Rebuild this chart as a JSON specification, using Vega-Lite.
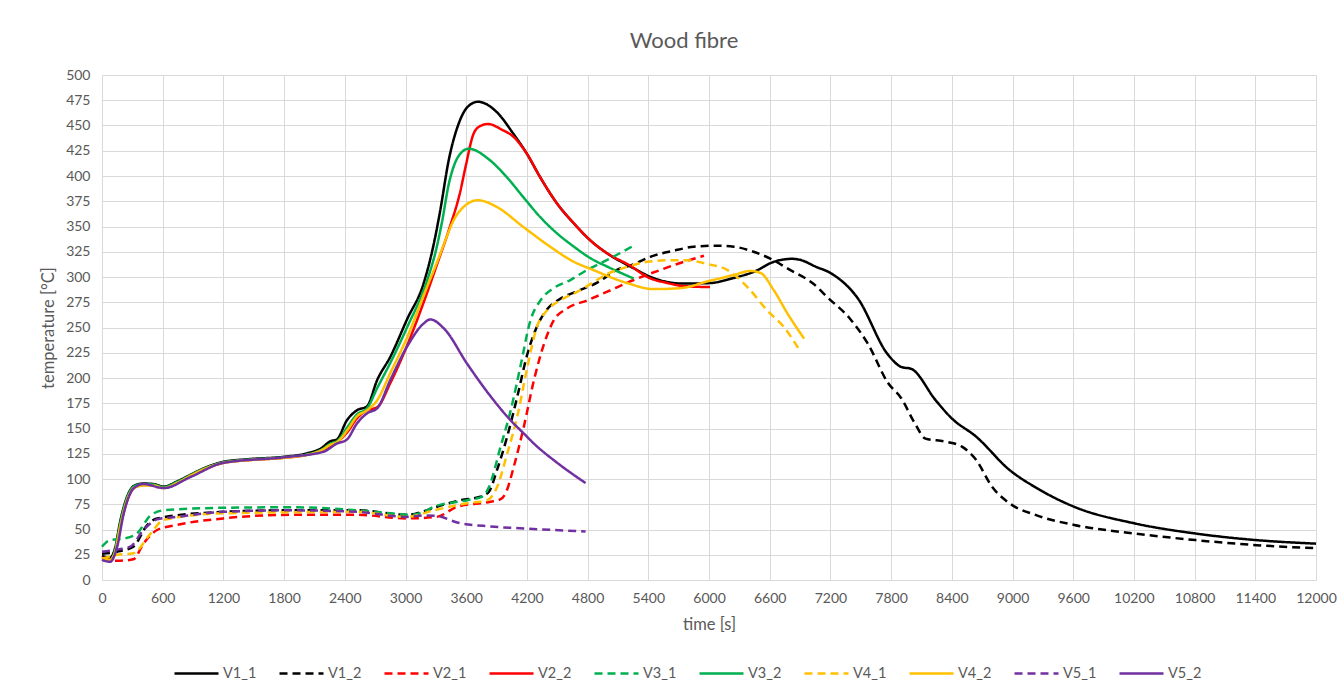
{
  "$schema": "https://vega.github.io/schema/vega-lite/v6.json",
  "width": 1214,
  "height": 505,
  "autosize": "none",
  "padding": {"left": 102, "top": 75, "right": 28, "bottom": 119},
  "background": "white",
  "title": {"text": "Wood fibre", "fontSize": 22, "font": "Lato", "fontWeight": "normal", "color": "#595959", "offset": 15, "dx": -25},
  "config": {
    "view": {"stroke": null},
    "font": "Lato",
    "axis": {"labelFont": "Lato", "titleFont": "Lato", "labelFontSize": 14, "titleFontSize": 16.5, "labelColor": "#595959", "titleColor": "#595959", "titleFontWeight": "normal", "gridColor": "#D9D9D9", "gridWidth": 1, "domain": false, "ticks": false},
    "legend": {"labelFont": "Lato", "labelFontSize": 14.5, "labelColor": "#595959", "padding": 0}
  },
  "data": {"values": [
    {"s":"V1_1","t":0,"v":24},{"s":"V1_1","t":80,"v":22},{"s":"V1_1","t":130,"v":32},{"s":"V1_1","t":180,"v":58},{"s":"V1_1","t":250,"v":83},{"s":"V1_1","t":330,"v":94},{"s":"V1_1","t":410,"v":95.5},{"s":"V1_1","t":510,"v":95},{"s":"V1_1","t":610,"v":92.5},{"s":"V1_1","t":740,"v":97.5},{"s":"V1_1","t":870,"v":104},{"s":"V1_1","t":1040,"v":112},{"s":"V1_1","t":1200,"v":117},{"s":"V1_1","t":1430,"v":119.5},{"s":"V1_1","t":1800,"v":122},{"s":"V1_1","t":2030,"v":125.5},{"s":"V1_1","t":2160,"v":130},{"s":"V1_1","t":2260,"v":137.5},{"s":"V1_1","t":2320,"v":139},{"s":"V1_1","t":2420,"v":158},{"s":"V1_1","t":2520,"v":168},{"s":"V1_1","t":2620,"v":172},{"s":"V1_1","t":2720,"v":198},{"s":"V1_1","t":2850,"v":221},{"s":"V1_1","t":3015,"v":258},{"s":"V1_1","t":3180,"v":294},{"s":"V1_1","t":3280,"v":333},{"s":"V1_1","t":3340,"v":364},{"s":"V1_1","t":3430,"v":417},{"s":"V1_1","t":3530,"v":453},{"s":"V1_1","t":3610,"v":468},{"s":"V1_1","t":3716,"v":473.5},{"s":"V1_1","t":3900,"v":463.5},{"s":"V1_1","t":4065,"v":442},{"s":"V1_1","t":4200,"v":422},{"s":"V1_1","t":4330,"v":399},{"s":"V1_1","t":4500,"v":372.5},{"s":"V1_1","t":4665,"v":353},{"s":"V1_1","t":4830,"v":336},{"s":"V1_1","t":5000,"v":323},{"s":"V1_1","t":5230,"v":310},{"s":"V1_1","t":5450,"v":299},{"s":"V1_1","t":5750,"v":293.5},{"s":"V1_1","t":6010,"v":294},{"s":"V1_1","t":6240,"v":299},{"s":"V1_1","t":6440,"v":305},{"s":"V1_1","t":6640,"v":315},{"s":"V1_1","t":6820,"v":318},{"s":"V1_1","t":6900,"v":317},{"s":"V1_1","t":7060,"v":310},{"s":"V1_1","t":7200,"v":304},{"s":"V1_1","t":7470,"v":279},{"s":"V1_1","t":7770,"v":223},{"s":"V1_1","t":7900,"v":211},{"s":"V1_1","t":8000,"v":209},{"s":"V1_1","t":8240,"v":178},{"s":"V1_1","t":8400,"v":160},{"s":"V1_1","t":8640,"v":142},{"s":"V1_1","t":8970,"v":109},{"s":"V1_1","t":9240,"v":91},{"s":"V1_1","t":9610,"v":72.5},{"s":"V1_1","t":10210,"v":56},{"s":"V1_1","t":10810,"v":46},{"s":"V1_1","t":11410,"v":39.5},{"s":"V1_1","t":12000,"v":36},
    {"s":"V1_2","t":0,"v":26},{"s":"V1_2","t":150,"v":28},{"s":"V1_2","t":310,"v":33},{"s":"V1_2","t":445,"v":54},{"s":"V1_2","t":545,"v":61},{"s":"V1_2","t":1200,"v":67.5},{"s":"V1_2","t":1800,"v":69},{"s":"V1_2","t":2520,"v":69},{"s":"V1_2","t":3015,"v":64.5},{"s":"V1_2","t":3180,"v":68},{"s":"V1_2","t":3310,"v":72.5},{"s":"V1_2","t":3545,"v":79},{"s":"V1_2","t":3740,"v":82.5},{"s":"V1_2","t":3825,"v":87.5},{"s":"V1_2","t":3905,"v":109},{"s":"V1_2","t":4005,"v":142},{"s":"V1_2","t":4105,"v":181.5},{"s":"V1_2","t":4200,"v":222},{"s":"V1_2","t":4300,"v":251},{"s":"V1_2","t":4400,"v":268},{"s":"V1_2","t":4530,"v":278.5},{"s":"V1_2","t":4700,"v":286},{"s":"V1_2","t":4895,"v":294.5},{"s":"V1_2","t":5090,"v":307},{"s":"V1_2","t":5255,"v":312.5},{"s":"V1_2","t":5420,"v":320},{"s":"V1_2","t":5650,"v":326},{"s":"V1_2","t":5850,"v":330},{"s":"V1_2","t":6050,"v":331},{"s":"V1_2","t":6245,"v":330},{"s":"V1_2","t":6440,"v":325},{"s":"V1_2","t":6610,"v":318},{"s":"V1_2","t":6800,"v":307},{"s":"V1_2","t":7035,"v":293},{"s":"V1_2","t":7170,"v":280},{"s":"V1_2","t":7400,"v":258},{"s":"V1_2","t":7570,"v":234},{"s":"V1_2","t":7770,"v":195},{"s":"V1_2","t":7900,"v":180},{"s":"V1_2","t":8035,"v":155},{"s":"V1_2","t":8140,"v":140},{"s":"V1_2","t":8340,"v":137},{"s":"V1_2","t":8500,"v":132},{"s":"V1_2","t":8640,"v":119},{"s":"V1_2","t":8800,"v":92},{"s":"V1_2","t":8970,"v":76},{"s":"V1_2","t":9240,"v":64},{"s":"V1_2","t":9610,"v":54.5},{"s":"V1_2","t":10210,"v":46},{"s":"V1_2","t":10810,"v":39.5},{"s":"V1_2","t":11410,"v":34.5},{"s":"V1_2","t":12000,"v":31.5},
    {"s":"V2_1","t":0,"v":20},{"s":"V2_1","t":150,"v":19},{"s":"V2_1","t":310,"v":20.5},{"s":"V2_1","t":410,"v":36},{"s":"V2_1","t":545,"v":49.5},{"s":"V2_1","t":740,"v":54.5},{"s":"V2_1","t":1200,"v":61},{"s":"V2_1","t":1860,"v":64.5},{"s":"V2_1","t":2520,"v":64.5},{"s":"V2_1","t":3015,"v":61},{"s":"V2_1","t":3310,"v":62.5},{"s":"V2_1","t":3510,"v":72.5},{"s":"V2_1","t":3840,"v":77.5},{"s":"V2_1","t":3940,"v":80},{"s":"V2_1","t":3990,"v":86},{"s":"V2_1","t":4070,"v":112},{"s":"V2_1","t":4170,"v":152},{"s":"V2_1","t":4270,"v":198},{"s":"V2_1","t":4370,"v":234},{"s":"V2_1","t":4465,"v":257},{"s":"V2_1","t":4600,"v":269},{"s":"V2_1","t":4800,"v":277},{"s":"V2_1","t":4995,"v":285.5},{"s":"V2_1","t":5255,"v":297},{"s":"V2_1","t":5520,"v":307},{"s":"V2_1","t":5750,"v":315},{"s":"V2_1","t":5950,"v":321},
    {"s":"V2_2","t":0,"v":22},{"s":"V2_2","t":80,"v":20},{"s":"V2_2","t":130,"v":28},{"s":"V2_2","t":180,"v":52},{"s":"V2_2","t":250,"v":79},{"s":"V2_2","t":330,"v":92},{"s":"V2_2","t":410,"v":94},{"s":"V2_2","t":510,"v":94},{"s":"V2_2","t":610,"v":91.5},{"s":"V2_2","t":740,"v":96},{"s":"V2_2","t":870,"v":103},{"s":"V2_2","t":1040,"v":111},{"s":"V2_2","t":1200,"v":116},{"s":"V2_2","t":1430,"v":118.5},{"s":"V2_2","t":1800,"v":121},{"s":"V2_2","t":2030,"v":124},{"s":"V2_2","t":2160,"v":128},{"s":"V2_2","t":2260,"v":133},{"s":"V2_2","t":2330,"v":137},{"s":"V2_2","t":2430,"v":147},{"s":"V2_2","t":2520,"v":160},{"s":"V2_2","t":2620,"v":168},{"s":"V2_2","t":2720,"v":171},{"s":"V2_2","t":2850,"v":195},{"s":"V2_2","t":3015,"v":232},{"s":"V2_2","t":3180,"v":275},{"s":"V2_2","t":3310,"v":312},{"s":"V2_2","t":3440,"v":350},{"s":"V2_2","t":3535,"v":382},{"s":"V2_2","t":3600,"v":412},{"s":"V2_2","t":3666,"v":440},{"s":"V2_2","t":3730,"v":449},{"s":"V2_2","t":3816,"v":451.5},{"s":"V2_2","t":3950,"v":446},{"s":"V2_2","t":4065,"v":439},{"s":"V2_2","t":4200,"v":422},{"s":"V2_2","t":4330,"v":399},{"s":"V2_2","t":4500,"v":372.5},{"s":"V2_2","t":4665,"v":353},{"s":"V2_2","t":4830,"v":336},{"s":"V2_2","t":5000,"v":323},{"s":"V2_2","t":5225,"v":311},{"s":"V2_2","t":5390,"v":300},{"s":"V2_2","t":5590,"v":294},{"s":"V2_2","t":5750,"v":291},{"s":"V2_2","t":6010,"v":290},
    {"s":"V3_1","t":0,"v":33},{"s":"V3_1","t":80,"v":39.5},{"s":"V3_1","t":215,"v":41},{"s":"V3_1","t":345,"v":46},{"s":"V3_1","t":480,"v":64},{"s":"V3_1","t":610,"v":69},{"s":"V3_1","t":1200,"v":71.5},{"s":"V3_1","t":1860,"v":72},{"s":"V3_1","t":2520,"v":69},{"s":"V3_1","t":2850,"v":66},{"s":"V3_1","t":3050,"v":64.5},{"s":"V3_1","t":3180,"v":67.5},{"s":"V3_1","t":3280,"v":72.5},{"s":"V3_1","t":3610,"v":79},{"s":"V3_1","t":3760,"v":82.5},{"s":"V3_1","t":3825,"v":92},{"s":"V3_1","t":3940,"v":132},{"s":"V3_1","t":4040,"v":168},{"s":"V3_1","t":4135,"v":211},{"s":"V3_1","t":4235,"v":257},{"s":"V3_1","t":4335,"v":277},{"s":"V3_1","t":4465,"v":289},{"s":"V3_1","t":4630,"v":297},{"s":"V3_1","t":4795,"v":307},{"s":"V3_1","t":4995,"v":317},{"s":"V3_1","t":5255,"v":331},
    {"s":"V3_2","t":0,"v":20},{"s":"V3_2","t":80,"v":19},{"s":"V3_2","t":130,"v":30},{"s":"V3_2","t":180,"v":56},{"s":"V3_2","t":250,"v":82},{"s":"V3_2","t":330,"v":93.5},{"s":"V3_2","t":410,"v":95},{"s":"V3_2","t":510,"v":94.5},{"s":"V3_2","t":610,"v":92},{"s":"V3_2","t":740,"v":97},{"s":"V3_2","t":870,"v":103.5},{"s":"V3_2","t":1040,"v":111.5},{"s":"V3_2","t":1200,"v":116.5},{"s":"V3_2","t":1430,"v":119},{"s":"V3_2","t":1800,"v":121.5},{"s":"V3_2","t":2030,"v":124.5},{"s":"V3_2","t":2160,"v":128.5},{"s":"V3_2","t":2260,"v":135},{"s":"V3_2","t":2330,"v":138},{"s":"V3_2","t":2430,"v":152},{"s":"V3_2","t":2520,"v":164},{"s":"V3_2","t":2620,"v":170},{"s":"V3_2","t":2720,"v":190},{"s":"V3_2","t":2850,"v":215},{"s":"V3_2","t":3015,"v":250},{"s":"V3_2","t":3215,"v":297},{"s":"V3_2","t":3300,"v":326},{"s":"V3_2","t":3360,"v":354},{"s":"V3_2","t":3430,"v":393},{"s":"V3_2","t":3490,"v":413},{"s":"V3_2","t":3550,"v":423},{"s":"V3_2","t":3625,"v":427},{"s":"V3_2","t":3830,"v":416},{"s":"V3_2","t":4000,"v":399},{"s":"V3_2","t":4165,"v":379},{"s":"V3_2","t":4330,"v":359.5},{"s":"V3_2","t":4500,"v":343},{"s":"V3_2","t":4665,"v":330},{"s":"V3_2","t":4830,"v":318.5},{"s":"V3_2","t":5000,"v":310},{"s":"V3_2","t":5255,"v":298.5},
    {"s":"V4_1","t":0,"v":21},{"s":"V4_1","t":150,"v":25},{"s":"V4_1","t":310,"v":26.5},{"s":"V4_1","t":480,"v":46},{"s":"V4_1","t":610,"v":59.5},{"s":"V4_1","t":1200,"v":66},{"s":"V4_1","t":2520,"v":67.5},{"s":"V4_1","t":3015,"v":62.5},{"s":"V4_1","t":3280,"v":69},{"s":"V4_1","t":3610,"v":76},{"s":"V4_1","t":3805,"v":79},{"s":"V4_1","t":3905,"v":92},{"s":"V4_1","t":4005,"v":125},{"s":"V4_1","t":4105,"v":162},{"s":"V4_1","t":4205,"v":211},{"s":"V4_1","t":4300,"v":251},{"s":"V4_1","t":4400,"v":267},{"s":"V4_1","t":4530,"v":277},{"s":"V4_1","t":4700,"v":285.5},{"s":"V4_1","t":4860,"v":295},{"s":"V4_1","t":4995,"v":303},{"s":"V4_1","t":5190,"v":310},{"s":"V4_1","t":5390,"v":315},{"s":"V4_1","t":5590,"v":316.5},{"s":"V4_1","t":5785,"v":316.5},{"s":"V4_1","t":5980,"v":313},{"s":"V4_1","t":6180,"v":307},{"s":"V4_1","t":6380,"v":290},{"s":"V4_1","t":6575,"v":267},{"s":"V4_1","t":6740,"v":250.5},{"s":"V4_1","t":6905,"v":226},
    {"s":"V4_2","t":0,"v":21},{"s":"V4_2","t":80,"v":20},{"s":"V4_2","t":130,"v":28},{"s":"V4_2","t":180,"v":53},{"s":"V4_2","t":250,"v":80},{"s":"V4_2","t":330,"v":92},{"s":"V4_2","t":410,"v":93.5},{"s":"V4_2","t":510,"v":93.5},{"s":"V4_2","t":610,"v":91},{"s":"V4_2","t":740,"v":96},{"s":"V4_2","t":870,"v":103},{"s":"V4_2","t":1040,"v":111},{"s":"V4_2","t":1200,"v":116},{"s":"V4_2","t":1430,"v":118.5},{"s":"V4_2","t":1800,"v":121},{"s":"V4_2","t":2030,"v":124},{"s":"V4_2","t":2160,"v":128},{"s":"V4_2","t":2260,"v":134},{"s":"V4_2","t":2330,"v":137},{"s":"V4_2","t":2430,"v":149},{"s":"V4_2","t":2520,"v":162},{"s":"V4_2","t":2620,"v":168},{"s":"V4_2","t":2720,"v":178},{"s":"V4_2","t":2850,"v":205},{"s":"V4_2","t":3015,"v":240},{"s":"V4_2","t":3180,"v":282},{"s":"V4_2","t":3340,"v":322},{"s":"V4_2","t":3400,"v":338},{"s":"V4_2","t":3470,"v":355},{"s":"V4_2","t":3575,"v":369.5},{"s":"V4_2","t":3716,"v":376},{"s":"V4_2","t":3900,"v":369.5},{"s":"V4_2","t":4165,"v":349.5},{"s":"V4_2","t":4430,"v":330},{"s":"V4_2","t":4665,"v":315},{"s":"V4_2","t":4830,"v":308},{"s":"V4_2","t":5190,"v":294},{"s":"V4_2","t":5455,"v":288},{"s":"V4_2","t":5720,"v":289},{"s":"V4_2","t":5980,"v":295.5},{"s":"V4_2","t":6245,"v":302},{"s":"V4_2","t":6410,"v":306},{"s":"V4_2","t":6510,"v":304},{"s":"V4_2","t":6640,"v":287},{"s":"V4_2","t":6775,"v":264},{"s":"V4_2","t":6940,"v":239},
    {"s":"V5_1","t":0,"v":28},{"s":"V5_1","t":115,"v":29.5},{"s":"V5_1","t":280,"v":33},{"s":"V5_1","t":410,"v":49.5},{"s":"V5_1","t":545,"v":60},{"s":"V5_1","t":740,"v":62.5},{"s":"V5_1","t":1200,"v":67.5},{"s":"V5_1","t":1860,"v":69},{"s":"V5_1","t":2520,"v":67.5},{"s":"V5_1","t":3015,"v":62.5},{"s":"V5_1","t":3180,"v":64},{"s":"V5_1","t":3310,"v":63.5},{"s":"V5_1","t":3510,"v":57},{"s":"V5_1","t":3840,"v":53},{"s":"V5_1","t":4170,"v":51},{"s":"V5_1","t":4780,"v":48},
    {"s":"V5_2","t":0,"v":20},{"s":"V5_2","t":80,"v":18},{"s":"V5_2","t":150,"v":33},{"s":"V5_2","t":215,"v":66},{"s":"V5_2","t":315,"v":91},{"s":"V5_2","t":410,"v":95},{"s":"V5_2","t":610,"v":91},{"s":"V5_2","t":875,"v":102},{"s":"V5_2","t":1200,"v":116},{"s":"V5_2","t":1800,"v":121.5},{"s":"V5_2","t":2190,"v":127},{"s":"V5_2","t":2320,"v":135},{"s":"V5_2","t":2420,"v":139},{"s":"V5_2","t":2520,"v":155},{"s":"V5_2","t":2620,"v":165},{"s":"V5_2","t":2720,"v":170},{"s":"V5_2","t":2850,"v":198},{"s":"V5_2","t":3015,"v":231},{"s":"V5_2","t":3180,"v":254},{"s":"V5_2","t":3245,"v":258},{"s":"V5_2","t":3380,"v":249},{"s":"V5_2","t":3610,"v":214},{"s":"V5_2","t":3840,"v":182},{"s":"V5_2","t":4040,"v":158},{"s":"V5_2","t":4170,"v":145},{"s":"V5_2","t":4270,"v":135},{"s":"V5_2","t":4500,"v":116},{"s":"V5_2","t":4780,"v":96}
  ]},
  "mark": {"type": "line", "interpolate": "monotone", "strokeWidth": 2.5},
  "encoding": {
    "x": {"field": "t", "type": "quantitative", "title": "time [s]",
      "scale": {"domain": [0, 12000], "nice": false, "zero": false},
      "axis": {"values": [0,600,1200,1800,2400,3000,3600,4200,4800,5400,6000,6600,7200,7800,8400,9000,9600,10200,10800,11400,12000], "format": "d", "labelPadding": 11, "titlePadding": 11, "labelFlush": false}},
    "y": {"field": "v", "type": "quantitative", "title": "temperature [°C]",
      "scale": {"domain": [0, 500], "nice": false},
      "axis": {"values": [0,25,50,75,100,125,150,175,200,225,250,275,300,325,350,375,400,425,450,475,500], "format": "d", "labelPadding": 12, "titlePadding": 9}},
    "color": {"field": "s", "type": "nominal", "title": null,
      "scale": {"domain": ["V1_1","V1_2","V2_1","V2_2","V3_1","V3_2","V4_1","V4_2","V5_1","V5_2"],
        "range": ["#000000","#000000","#FF0000","#FF0000","#00B050","#00B050","#FFC000","#FFC000","#7030A0","#7030A0"]},
      "legend": {"orient": "none", "legendX": 71, "legendY": 575, "direction": "horizontal", "columns": 10, "symbolType": "stroke", "symbolSize": 1936, "symbolStrokeWidth": 2.5, "labelOffset": 3, "columnPadding": 17}},
    "strokeDash": {"field": "s", "type": "nominal", "title": null,
      "scale": {"domain": ["V1_1","V1_2","V2_1","V2_2","V3_1","V3_2","V4_1","V4_2","V5_1","V5_2"],
        "range": [[1,0],[8,5],[8,5],[1,0],[8,5],[1,0],[8,5],[1,0],[8,5],[1,0]]},
      "legend": {"orient": "none", "legendX": 71, "legendY": 575, "direction": "horizontal", "columns": 10, "symbolType": "stroke", "symbolSize": 1936, "symbolStrokeWidth": 2.5, "labelOffset": 3, "columnPadding": 17}}
  }
}
